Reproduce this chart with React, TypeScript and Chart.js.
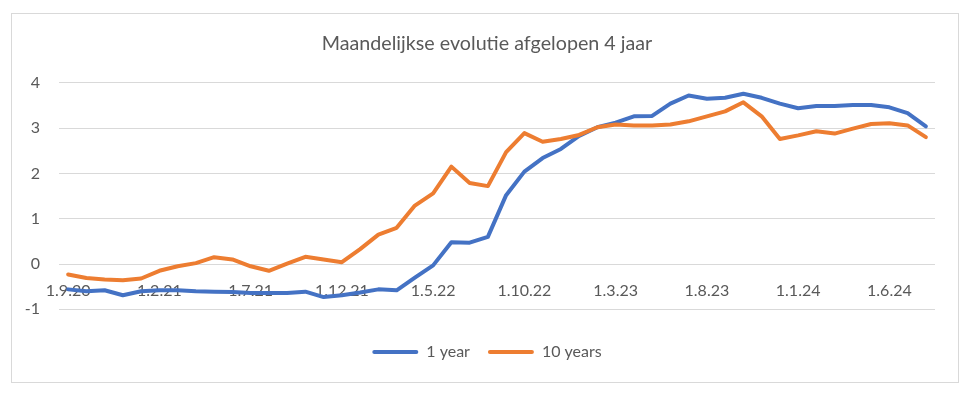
import React, { useEffect, useRef } from "react";
import { Chart, registerables } from "chart.js";

Chart.register(...registerables);

const categories: string[] = [
  "1.9.20", "1.10.20", "1.11.20", "1.12.20", "1.1.21", "1.2.21", "1.3.21", "1.4.21",
  "1.5.21", "1.6.21", "1.7.21", "1.8.21", "1.9.21", "1.10.21", "1.11.21", "1.12.21",
  "1.1.22", "1.2.22", "1.3.22", "1.4.22", "1.5.22", "1.6.22", "1.7.22", "1.8.22",
  "1.9.22", "1.10.22", "1.11.22", "1.12.22", "1.1.23", "1.2.23", "1.3.23", "1.4.23",
  "1.5.23", "1.6.23", "1.7.23", "1.8.23", "1.9.23", "1.10.23", "1.11.23", "1.12.23",
  "1.1.24", "1.2.24", "1.3.24", "1.4.24", "1.5.24", "1.6.24", "1.7.24", "1.8.24",
];

const oneYear: number[] = [
  -0.56, -0.6, -0.58, -0.69, -0.6, -0.58, -0.58, -0.6, -0.61, -0.62, -0.64, -0.64,
  -0.64, -0.61, -0.73, -0.69, -0.63, -0.56, -0.58, -0.3, -0.03, 0.48, 0.47, 0.6,
  1.52, 2.04, 2.34, 2.54, 2.83, 3.02, 3.12, 3.26, 3.27, 3.54, 3.72, 3.65,
  3.67, 3.76, 3.67, 3.54, 3.44, 3.49, 3.49, 3.51, 3.51, 3.46, 3.33, 3.04,
];

const tenYears: number[] = [
  -0.23, -0.31, -0.34, -0.36, -0.32, -0.15, -0.05, 0.02, 0.15, 0.1, -0.05, -0.15,
  0.01, 0.16, 0.1, 0.04, 0.33, 0.65, 0.8, 1.29, 1.56, 2.15, 1.79, 1.72,
  2.47, 2.89, 2.7, 2.76, 2.85, 3.02, 3.08, 3.06, 3.06, 3.08, 3.15, 3.26,
  3.37, 3.57, 3.26, 2.76, 2.84, 2.93, 2.88, 2.99, 3.09, 3.11, 3.06, 2.8,
];

const seriesNames: string[] = ["1 year", "10 years"];
const yTicks: number[] = [-1, 0, 1, 2, 3, 4];
const titleText = "Maandelijkse evolutie afgelopen 4 jaar";

const TEXT = "#595959";
const FONT = "Lato";

export default function App() {
  const ref = useRef<HTMLCanvasElement | null>(null);

  useEffect(() => {
    document.body.style.margin = "0";
    const canvas = ref.current;
    if (!canvas) return;
    const chart = new Chart(canvas, {
      type: "line",
      data: {
        labels: categories,
        datasets: [
          {
            label: seriesNames[0],
            data: oneYear,
            borderColor: "#4472C4",
            backgroundColor: "#4472C4",
            borderWidth: 4,
            pointRadius: 0,
            tension: 0,
            borderCapStyle: "round",
            borderJoinStyle: "round",
            order: 1,
          },
          {
            label: seriesNames[1],
            data: tenYears,
            borderColor: "#ED7D31",
            backgroundColor: "#ED7D31",
            borderWidth: 4,
            pointRadius: 0,
            tension: 0,
            borderCapStyle: "round",
            borderJoinStyle: "round",
            order: 0,
          },
        ],
      },
      options: {
        responsive: false,
        animation: false,
        layout: { padding: { left: 0, right: 0, top: 32, bottom: 28 } },
        plugins: {
          title: {
            display: true,
            text: titleText,
            color: TEXT,
            font: { family: FONT, size: 19.7, weight: "normal" },
            padding: { top: 0, bottom: 27.2 },
          },
          legend: {
            position: "bottom",
            labels: {
              boxWidth: 46,
              boxHeight: 4,
              padding: 18,
              color: TEXT,
              font: { family: FONT, size: 16 },
              sort: (a: any, b: any) => a.datasetIndex - b.datasetIndex,
              generateLabels: (c: any) =>
                Chart.defaults.plugins.legend.labels
                  .generateLabels(c)
                  .map((it: any) => ({ ...it, lineWidth: 0, fillStyle: it.strokeStyle, borderRadius: 2 })),
            },
          },
          tooltip: { enabled: false },
        },
        scales: {
          x: {
            type: "category",
            offset: true,
            position: { y: 0 } as any,
            grid: { display: false, drawTicks: false },
            border: { display: false },
            ticks: {
              autoSkip: false,
              maxRotation: 0,
              minRotation: 0,
              padding: 17,
              color: TEXT,
              font: { family: FONT, size: 16 },
              callback: (_v: any, i: number) => (i % 5 === 0 ? categories[i] : ""),
            },
          },
          xSpace: {
            type: "category",
            position: "bottom",
            offset: true,
            afterFit: (s: any) => {
              s.height = 16.7;
            },
            grid: { display: false, drawTicks: false },
            border: { display: false },
            ticks: { display: false },
          },
          y: {
            position: "left",
            min: yTicks[0],
            max: yTicks[yTicks.length - 1],
            afterFit: (s: any) => {
              s.width = 59;
            },
            afterBuildTicks: (s: any) => {
              s.ticks = yTicks.map((v) => ({ value: v }));
            },
            grid: { color: "#D9D9D9", lineWidth: 1, drawTicks: false },
            border: { display: false },
            ticks: {
              padding: 19,
              color: TEXT,
              font: { family: FONT, size: 16 },
            },
          },
          ySpace: {
            type: "linear",
            position: "right",
            afterFit: (s: any) => {
              s.width = 39;
            },
            grid: { display: false, drawTicks: false },
            border: { display: false },
            ticks: { display: false },
          },
        },
      },
    });
    return () => chart.destroy();
  }, []);

  return (
    <div style={{ position: "relative", width: 974, height: 398, background: "#fff" }}>
      <canvas ref={ref} width={974} height={398} style={{ display: "block", position: "absolute", left: 0, top: 0 }} />
      <div
        style={{
          position: "absolute",
          left: 11,
          top: 13,
          width: 948,
          height: 370,
          boxSizing: "border-box",
          border: "1px solid #D9D9D9",
          pointerEvents: "none",
        }}
      />
    </div>
  );
}
